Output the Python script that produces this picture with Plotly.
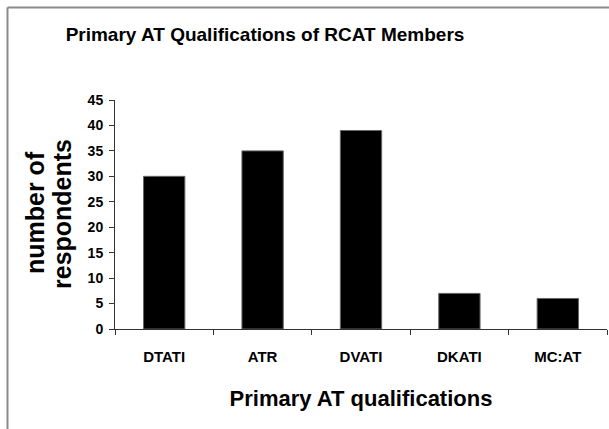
import plotly.graph_objects as go

categories = ["DTATI", "ATR", "DVATI", "DKATI", "MC:AT"]
respondents = [30, 35, 39, 7, 6]
y_ticks = [0, 5, 10, 15, 20, 25, 30, 35, 40, 45]

FONT = "Liberation Sans, Arial, sans-serif"

fig = go.Figure()
fig.add_trace(go.Bar(
    x=categories, y=respondents,
    marker=dict(color="#000000", line=dict(color="#666666", width=1)),
))

W, H = 609, 429
L, R, T, B = 115, 2, 100, 100
pw, ph = W - L - R, H - T - B

def px_x(p):
    return (p - L) / pw

def px_y(p):
    return (H - B - p) / ph

fig.update_layout(
    width=W, height=H,
    margin=dict(l=L, r=R, t=T, b=B),
    paper_bgcolor="white", plot_bgcolor="white",
    bargap=0.58,
    showlegend=False,
    title=dict(text="Primary AT Qualifications of RCAT Members",
               font=dict(family=FONT, size=19, color="black", weight="bold"),
               x=265 / W, xref="container", xanchor="center",
               y=1 - 34 / H, yanchor="middle"),
    xaxis=dict(
        type="category", tickson="boundaries", automargin=False,
        ticks="outside", ticklen=5, tickcolor="#333", tickwidth=1,
        showline=True, linecolor="#333", linewidth=1,
        showgrid=False, zeroline=False,
        tickfont=dict(family=FONT, size=15, color="black", weight="bold"),
        ticklabelstandoff=14,
        title=dict(text="Primary AT qualifications",
                   font=dict(family=FONT, size=22, color="black", weight="bold"),
                   standoff=26),
    ),
    yaxis=dict(
        range=[0, 45], tickvals=y_ticks, automargin=False,
        ticks="outside", ticklen=5, tickcolor="#333", tickwidth=1,
        showline=True, linecolor="#333", linewidth=1,
        showgrid=False, zeroline=False,
        tickfont=dict(family=FONT, size=14, color="black", weight="bold"),
        ticklabelstandoff=3,
    ),
    annotations=[
        dict(text="number of", xref="paper", yref="paper",
             x=px_x(35), y=px_y(213), xanchor="center", yanchor="middle",
             textangle=-90, showarrow=False,
             font=dict(family=FONT, size=25, color="black", weight="bold")),
        dict(text="respondents", xref="paper", yref="paper",
             x=px_x(62), y=px_y(214), xanchor="center", yanchor="middle",
             textangle=-90, showarrow=False,
             font=dict(family=FONT, size=25, color="black", weight="bold")),
    ],
    shapes=[
        dict(type="line", xref="paper", yref="paper",
             x0=px_x(7.5), x1=px_x(W + 5), y0=px_y(7.5), y1=px_y(7.5),
             line=dict(color="#8a8a8a", width=2)),
        dict(type="line", xref="paper", yref="paper",
             x0=px_x(7.5), x1=px_x(7.5), y0=px_y(7.5), y1=px_y(H + 5),
             line=dict(color="#8a8a8a", width=2)),
    ],
)

fig.write_html(
    "out.html",
    config={"displayModeBar": False},
    post_script="document.body.style.margin='0';document.body.style.padding='0';document.body.style.overflow='hidden';",
)
